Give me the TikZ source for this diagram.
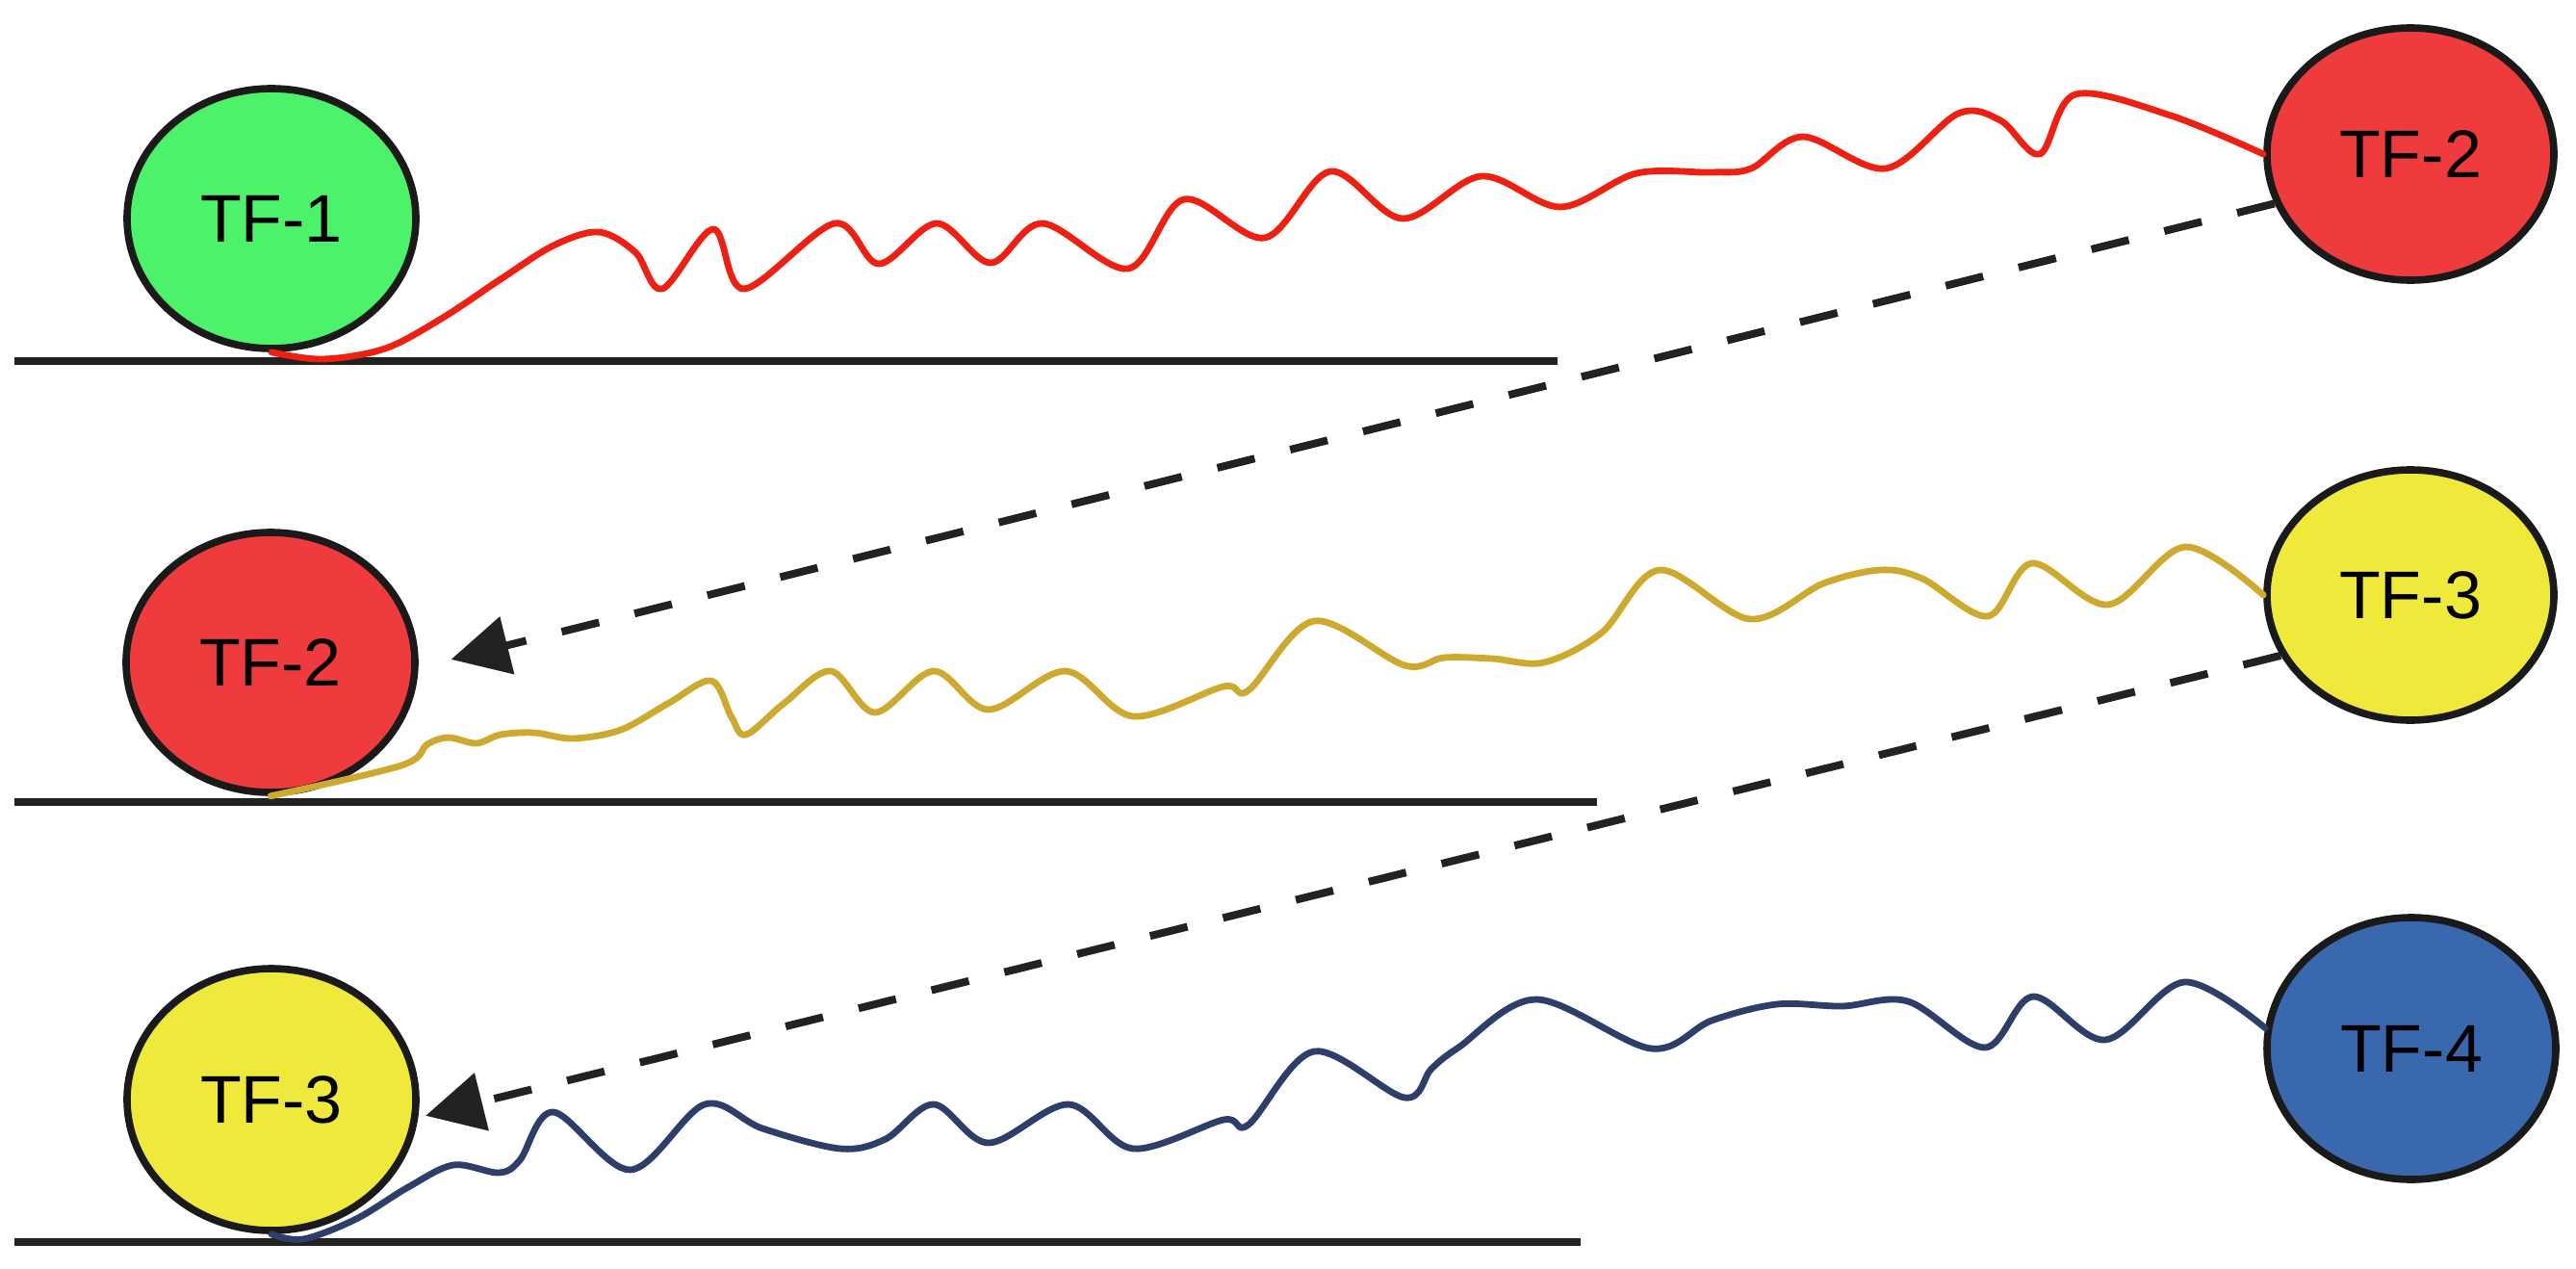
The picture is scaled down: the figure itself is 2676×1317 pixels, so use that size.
\documentclass[tikz,border=0pt]{standalone}
\usepackage{fontspec}
\setmainfont{Liberation Sans}
\usetikzlibrary{arrows.meta,shapes.geometric}
\definecolor{tfgreen}{HTML}{4CF26A}
\definecolor{tfred}{HTML}{EF3B3D}
\definecolor{tfyellow}{HTML}{EEE93A}
\definecolor{tfblue}{HTML}{3A68AE}
\definecolor{outl}{HTML}{1A1A1A}
\definecolor{wred}{HTML}{EE2012}
\definecolor{wgold}{HTML}{CDAA2D}
\definecolor{wnavy}{HTML}{2E3E6B}
\definecolor{dashc}{HTML}{222222}
\begin{document}
\begin{tikzpicture}[x=0.25pt,y=-0.25pt,
  tfnode/.style={ellipse, draw=outl, line width=1.9pt, inner sep=0pt,
    font=\fontsize{17.5pt}{21pt}\selectfont, text=black},
  baseln/.style={draw=dashc, line width=1.9pt},
  dasharrow/.style={draw=dashc, line width=2pt, dash pattern=on 10pt off 9.5pt,
    -{Triangle[length=15pt,width=15pt]}},
  wave/.style={line width=1.7pt, line cap=round, line join=round}
]
\useasboundingbox (0,0) rectangle (2676,1317);
% base lines
\draw[baseln] (15,375) -- (1618,375);
\draw[baseln] (15,833) -- (1659,833);
\draw[baseln] (15,1290) -- (1642,1290);
% nodes
\node[tfnode, fill=tfgreen, minimum width=75pt, minimum height=67.5pt] (tf1) at (282,227) {TF-1};
\node[tfnode, fill=tfred, minimum width=74.5pt, minimum height=65.5pt] (tf2r) at (2504,160) {TF-2};
\node[tfnode, fill=tfred, minimum width=75pt, minimum height=67.5pt] (tf2l) at (281,688) {TF-2};
\node[tfnode, fill=tfyellow, minimum width=74.5pt, minimum height=65pt] (tf3r) at (2504,618) {TF-3};
\node[tfnode, fill=tfyellow, minimum width=75pt, minimum height=68pt] (tf3l) at (282,1142) {TF-3};
\node[tfnode, fill=tfblue, minimum width=75pt, minimum height=68pt] (tf4) at (2505,1089) {TF-4};
% dashed arrows
\draw[dasharrow, shorten >=8.75pt] (tf2r.200) -- (tf2l.358);
\draw[dasharrow, shorten >=2pt] (tf3r.205) -- (tf3l.353);
% wavy connectors
\draw[wave, wred] plot[smooth, tension=0.55] coordinates {
 (tf1.south) (335,373) (400,362) (460,330) (520,290) (575,255) (622,241)
 (660,262) (688,300) (741,238) (773,300) (867,232) (913,274) (973,232)
 (1029,273) (1083,232) (1172,279) (1230,207) (1314,247) (1382,178)
 (1457,227) (1539,183) (1621,215) (1700,180) (1778,179) (1819,175)
 (1873,142) (1959,175) (2034,118) (2078,125) (2119,160) (2156,98)
 (2255,120) (tf2r.west)};
\draw[wave, wgold] plot[smooth, tension=0.55] coordinates {
 (tf2l.south) (417,795) (444,773) (466,766) (495,772) (520,763) (555,761)
 (595,767) (645,758) (695,730) (739,707) (760,745) (775,763) (815,730)
 (863,697) (909,740) (970,697) (1027,737) (1107,697) (1177,744) (1271,713)
 (1297,717) (1365,645) (1459,691) (1500,683) (1550,684) (1604,688) (1664,657)
 (1724,592) (1818,643) (1894,606) (1954,592) (1997,601) (2065,640)
 (2111,585) (2190,628) (2270,568) (tf3r.west)};
\draw[wave, wnavy] plot[smooth, tension=0.55] coordinates {
 (tf3l.south) (315,1287) (370,1266) (424,1233) (471,1210) (518,1218)
 (540,1205) (575,1155) (655,1215) (732,1147) (792,1172) (873,1193)
 (920,1183) (970,1147) (1027,1187) (1110,1147) (1177,1193) (1271,1163)
 (1297,1168) (1365,1092) (1459,1140) (1487,1110) (1515,1088) (1596,1038)
 (1715,1089) (1778,1060) (1846,1043) (1914,1045) (1982,1040) (2062,1088)
 (2112,1035) (2187,1080) (2269,1020) (tf4.172)};
\end{tikzpicture}
\end{document}
